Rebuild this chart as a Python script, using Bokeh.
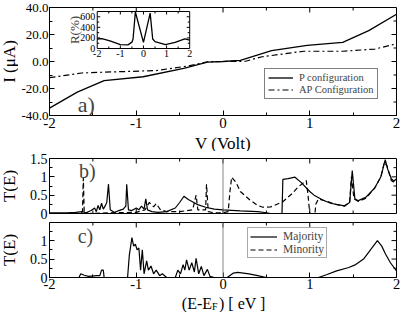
import math
from bokeh.plotting import figure
from bokeh.layouts import column, row
from bokeh.models import (Range1d, SingleIntervalTicker, Span, Label,
                          Legend, LegendItem, NumeralTickFormatter)
from bokeh.core.properties import value
from bokeh.embed import file_html
from bokeh.resources import INLINE

FONT = "Liberation Serif"

# ---------------- data ----------------
# panel a: I-V curves
v_p = [-2.0, -1.68, -1.37, -0.92, -0.44, -0.18, 0.0, 0.2, 0.56, 0.97, 1.38, 1.68, 2.0]
i_p = [-34.5, -22.7, -14.2, -11.3, -4.9, -0.5, 0.0, 0.8, 8.0, 12.0, 14.2, 22.9, 35.0]
v_ap = [-2.0, -1.63, -1.36, -0.77, -0.4, -0.18, 0.0, 0.26, 0.45, 0.93, 1.38, 1.75, 2.0]
i_ap = [-12.0, -8.5, -7.9, -6.7, -3.3, -0.2, 0.0, 0.2, 3.5, 7.6, 7.6, 9.2, 13.1]

# inset: magnetoresistance R(%) vs V
v_r = [-2.0, -1.8, -1.45, -1.0, -0.67, -0.5, -0.45, -0.35, 0.0, 0.29, 0.4, 0.5, 0.95, 1.37, 1.79, 2.0]
r_r = [180, 185, 143, 74, 69, 120, 180, 690, 115, 669, 180, 130, 74, 115, 183, 160]

# panel b: transmission, majority / minority
e_b_maj = [-2.0, -1.8, -1.7, -1.62, -1.58, -1.52, -1.48, -1.46, -1.44, -1.42, -1.40, -1.38,
           -1.36, -1.34, -1.32, -1.30, -1.25, -1.2, -1.15, -1.12, -1.11, -1.09, -1.05, -1.0,
           -0.97, -0.94, -0.91, -0.89, -0.87, -0.82, -0.75, -0.65, -0.55, -0.5, -0.45, -0.4,
           -0.3, -0.2, -0.1, 0.0, 0.2, 0.4, 0.5, 0.55, 0.68, 0.69, 0.75, 0.83, 0.9, 1.0, 1.05,
           1.15, 1.24, 1.32, 1.4, 1.46, 1.49, 1.52, 1.56, 1.65, 1.75, 1.82, 1.87, 1.9, 1.94,
           1.97, 2.0]
t_b_maj = [0.02, 0.02, 0.03, 0.05, 0.02, 0.08, 0.15, 0.05, 0.22, 0.1, 0.28, 0.12,
           0.2, 0.3, 0.8, 0.1, 0.03, 0.08, 0.12, 0.2, 0.8, 0.1, 0.08, 0.15,
           0.1, 0.2, 0.12, 0.4, 0.1, 0.05, 0.03, 0.05, 0.15, 0.3, 0.47, 0.38,
           0.25, 0.17, 0.12, 0.1, 0.07, 0.05, 0.02, 0.0, 0.0, 0.93, 0.95, 0.99, 0.85, 0.6, 0.5,
           0.37, 0.28, 0.24, 0.21, 0.3, 1.17, 0.4, 0.35, 0.45, 0.7, 1.0, 1.47, 1.2, 0.95,
           0.88, 0.95]
e_b_min = [-2.0, -1.65, -1.62, -1.61, -1.60, -1.55, -1.3, -1.0, -0.9, -0.85, -0.8, -0.77,
           -0.72, -0.65, -0.5, -0.35, -0.31, -0.29, -0.2, -0.19, -0.17, -0.1, 0.0, 0.06,
           0.08, 0.1, 0.15, 0.2, 0.31, 0.4, 0.46, 0.55, 0.69, 0.8, 0.86, 0.96, 0.98, 1.0,
           1.06, 1.07, 1.1, 1.2, 1.3, 1.4, 1.46, 1.48, 1.51, 1.56, 1.65, 1.75, 1.82, 1.86,
           1.89, 1.94, 1.97, 2.0]
t_b_min = [0.0, 0.0, 0.05, 0.97, 0.05, 0.0, 0.02, 0.03, 0.1, 0.3, 0.18, 0.27,
           0.1, 0.05, 0.05, 0.1, 0.5, 0.1, 0.1, 0.8, 0.05, 0.02, 0.02, 0.05,
           0.6, 0.99, 0.85, 0.6, 0.37, 0.22, 0.17, 0.18, 0.32, 0.55, 0.71, 0.9, 0.5, 0.0,
           0.0, 0.25, 0.4, 0.33, 0.25, 0.2, 0.3, 1.0, 0.4, 0.33, 0.42, 0.7, 1.0, 1.4,
           1.3, 0.9, 0.85, 0.9]

# panel c: transmission, majority / minority
e_c_maj = [-2.0, -1.66, -1.64, -1.6, -1.55, -1.45, -1.42, -1.40, -1.38, -1.37, -1.1, -1.08,
           -1.05, -1.03, -1.01, -0.99, -0.97, -0.95, -0.93, -0.91, -0.88, -0.86, -0.83, -0.8,
           -0.77, -0.73, -0.7, -0.65, -0.55, -0.52, -0.49, -0.46, -0.44, -0.42, -0.39, -0.36,
           -0.33, -0.31, -0.28, -0.25, -0.22, -0.18, -0.15, -0.1, 0.05, 0.12, 0.17, 0.3, 0.4,
           0.5, 1.1, 1.2, 1.31, 1.45, 1.53, 1.62, 1.7, 1.78, 1.83, 1.87, 1.93, 2.0]
t_c_maj = [0.0, 0.0, 0.1, 0.06, 0.03, 0.05, 0.05, 0.2, 0.2, 0.0, 0.0, 0.6,
           1.08, 0.85, 0.9, 0.75, 0.8, 0.2, 0.75, 0.1, 0.45, 0.2, 0.31, 0.1,
           0.2, 0.05, 0.1, 0.0, 0.0, 0.2, 0.1, 0.35, 0.2, 0.48, 0.2, 0.4,
           0.15, 0.52, 0.1, 0.3, 0.05, 0.22, 0.03, 0.0, 0.0, 0.12, 0.14, 0.1, 0.05,
           0.0, 0.0, 0.08, 0.18, 0.27, 0.35, 0.5, 0.75, 1.0, 0.85, 0.65, 0.4, 0.18]
e_c_min = [-2.0, 2.0]
t_c_min = [0.0, 0.0]

inset_x_labels = [-2, -1, 0, 1, 2]
inset_y_labels = [0, 200, 400, 600]

# ---------------- layout constants (pixels) ----------------
SW = 18                       # left strip for rotated axis titles
W = 401 - SW                  # width of the panel column
BL, BR = 29, 5
FL, FR = SW + BL, SW + W - BR  # frame left/right in page px: 47 .. 396
XPX = (FR - FL) / 4.0

H1, T1, F1 = 134, 7, 108      # panel a: height, top border, frame height
HV = 17                       # strip holding "V (Volt)"
H2, T2, F2 = 69, 7, 55        # panel b
H3, T3, F3 = 74, 2, 55        # panel c
HX = 312 - H1 - HV - H2 - H3  # strip holding the energy axis title

IN_L, IN_R, IN_T, IN_B = 95, 188, 11, 48   # inset box (page px)
R_MAX = 700


def base(height, top, frame_h, xr, yr):
    p = figure(width=W, height=height, x_range=xr, y_range=yr, output_backend="svg",
               toolbar_location=None, min_border_left=BL, min_border_right=BR,
               min_border_top=top, min_border_bottom=height - top - frame_h)
    p.xgrid.visible = False
    p.ygrid.visible = False
    p.outline_line_color = "black"
    p.outline_line_width = 1
    return p


def style_axis(ax, interval, nminor, size, fmt, standoff=2):
    ax.ticker = SingleIntervalTicker(interval=interval, num_minor_ticks=nminor)
    ax.formatter = NumeralTickFormatter(format=fmt)
    ax.axis_line_color = "black"
    ax.major_tick_in = 5
    ax.major_tick_out = 0
    ax.minor_tick_in = 3
    ax.minor_tick_out = 0
    ax.major_tick_line_color = "black"
    ax.minor_tick_line_color = "black"
    ax.major_label_text_font = FONT
    ax.major_label_text_font_size = size
    ax.major_label_text_color = "black"
    ax.major_label_standoff = standoff


def frame_ticks(p, x0, x1, xstep, y0, y1, ystep, ypx, sides):
    """inward tick marks on frame sides that carry no labels"""
    sx0, sy0, sx1, sy1 = [], [], [], []
    n = int(round((x1 - x0) / xstep))
    for k in range(1, n):
        x = x0 + k * xstep
        ln = (5 if k % 2 == 0 else 3) / ypx
        if "top" in sides:
            sx0.append(x); sy0.append(y1); sx1.append(x); sy1.append(y1 - ln)
        if "bottom" in sides:
            sx0.append(x); sy0.append(y0); sx1.append(x); sy1.append(y0 + ln)
    m = int(math.floor((y1 - y0) / ystep + 1e-9))
    for k in range(1, m + 1):
        y = y0 + k * ystep
        if y >= y1 - 1e-9:
            continue
        ln = (5 if k % 2 == 0 else 3) / XPX
        if "right" in sides:
            sx0.append(x1); sy0.append(y); sx1.append(x1 - ln); sy1.append(y)
    p.segment(x0=sx0, y0=sy0, x1=sx1, y1=sy1, line_color="black", line_width=1)


# ---------------- panel a ----------------
A_TOP, A_BOT = T1, T1 + F1
p1 = base(H1, T1, F1, Range1d(-2, 2), Range1d(-40, 40))
style_axis(p1.xaxis[0], 1, 2, "15px", "0")
style_axis(p1.yaxis[0], 20, 2, "13px", "0.0", standoff=1)
frame_ticks(p1, -2, 2, 0.5, -40, 40, 10, F1 / 80.0, ("top", "right"))

ixs = (IN_R - IN_L) / 4.0
iys = (IN_B - IN_T) / R_MAX
p1.extra_x_ranges = {"ix": Range1d(-2 - (IN_L - FL) / ixs, 2 + (FR - IN_R) / ixs)}
p1.extra_y_ranges = {"iy": Range1d(0 - (A_BOT - IN_B) / iys, R_MAX + (IN_T - A_TOP) / iys)}

rP = p1.line(v_p, i_p, line_color="black", line_width=1.3)
rAP = p1.line(v_ap, i_ap, line_color="black", line_width=1.2, line_dash="6 3 2 3")

p1.quad(left=-2, right=2, bottom=0, top=R_MAX, fill_color="white", line_color="black",
        line_width=1, x_range_name="ix", y_range_name="iy")
p1.line(v_r, r_r, line_color="black", line_width=1.3, x_range_name="ix", y_range_name="iy")

# inset tick marks
tx0, ty0, tx1, ty1 = [], [], [], []
for k in range(1, 8):
    x = -2 + 0.5 * k
    ln = (3 if k % 2 == 0 else 2) / iys
    tx0 += [x, x]; tx1 += [x, x]
    ty0 += [0, R_MAX]; ty1 += [ln, R_MAX - ln]
for k in range(1, 7):
    y = 100 * k
    ln = (3 if k % 2 == 0 else 2) / ixs
    tx0 += [-2, 2]; tx1 += [-2 + ln, 2 - ln]
    ty0 += [y, y]; ty1 += [y, y]
p1.segment(x0=tx0, y0=ty0, x1=tx1, y1=ty1, line_color="black", line_width=1,
           x_range_name="ix", y_range_name="iy")
p1.text(x=inset_x_labels, y=[0] * len(inset_x_labels), text=[str(v) for v in inset_x_labels],
        text_font=value(FONT), text_font_size=value("10px"), text_align="center",
        text_baseline="top", y_offset=1, x_range_name="ix", y_range_name="iy")
p1.text(x=[-2] * len(inset_y_labels), y=inset_y_labels, text=[str(v) for v in inset_y_labels],
        text_font=value(FONT), text_font_size=value("10px"), text_align="right",
        text_baseline="middle", x_offset=-2, x_range_name="ix", y_range_name="iy")
p1.add_layout(Label(x=-2, y=350, x_range_name="ix", y_range_name="iy", x_offset=-23,
                    text="R(%)", angle=math.pi / 2, text_font=FONT, text_font_size="13px",
                    text_align="center", text_baseline="middle"))
p1.add_layout(Label(x=-1.575, y=-31.8, text="a)", text_font=FONT, text_font_size="22px",
                    text_align="center", text_baseline="middle"))

legA = Legend(items=[LegendItem(label="P configuration", renderers=[rP]),
                     LegendItem(label="AP Configuration", renderers=[rAP])],
              location=(215, 16), label_text_font=FONT, label_text_font_size="10.5px",
              label_text_line_height=1.0,
              glyph_width=25, glyph_height=11, label_height=11, label_standoff=6,
              padding=3, spacing=1, margin=0, border_line_color="black",
              border_line_width=1, background_fill_alpha=1.0)
p1.add_layout(legA)

# ---------------- strip with "V (Volt)" ----------------
pv = figure(width=W, height=HV, x_range=p1.x_range, y_range=Range1d(0, 1),
            output_backend="svg", toolbar_location=None, x_axis_type=None, y_axis_type=None,
            min_border_left=BL, min_border_right=BR, min_border_top=0, min_border_bottom=0)
pv.outline_line_color = None
pv.grid.visible = False
pv.text(x=[0], y=[0.5], text=["V (Volt)"], text_font=value(FONT),
        text_font_size=value("17px"), text_align="center", text_baseline="middle")

# ---------------- panel b ----------------
p2 = base(H2, T2, F2, p1.x_range, Range1d(0, 1.5))
p2.xaxis.visible = False
style_axis(p2.yaxis[0], 0.5, 2, "14px", "0.[0]")
frame_ticks(p2, -2, 2, 0.5, 0, 1.5, 0.25, F2 / 1.5, ("top", "right", "bottom"))
p2.add_layout(Span(location=0, dimension="height", line_color="#888888", line_width=1))
p2.line(e_b_maj, t_b_maj, line_color="black", line_width=1.2)
p2.line(e_b_min, t_b_min, line_color="black", line_width=1.2, line_dash="5 3")
p2.add_layout(Label(x=-1.564, y=1.167, text="b)", text_font=FONT, text_font_size="20px",
                    text_align="center", text_baseline="middle"))

# ---------------- panel c ----------------
C_YMAX = 1.49
p3 = base(H3, T3, F3, p1.x_range, Range1d(0, C_YMAX))
style_axis(p3.xaxis[0], 1, 2, "14.5px", "0", standoff=1)
style_axis(p3.yaxis[0], 0.5, 2, "14px", "0.[0]")
frame_ticks(p3, -2, 2, 0.5, 0, C_YMAX, 0.25, F3 / C_YMAX, ("top", "right"))
p3.add_layout(Span(location=0, dimension="height", line_color="#888888", line_width=1))
rMaj = p3.line(e_c_maj, t_c_maj, line_color="black", line_width=1.2)
rMin = p3.line(e_c_min, t_c_min, line_color="black", line_width=1.2, line_dash="5 3")
p3.add_layout(Label(x=-1.586, y=1.13, text="c)", text_font=FONT, text_font_size="20px",
                    text_align="center", text_baseline="middle"))
legC = Legend(items=[LegendItem(label="Majority", renderers=[rMaj]),
                     LegendItem(label="Minority", renderers=[rMin])],
              location=(198, 19), label_text_font=FONT, label_text_font_size="11.5px",
              label_text_line_height=1.0,
              glyph_width=27, glyph_height=11, label_height=11, label_standoff=6,
              padding=2, spacing=1, margin=0, border_line_color="#555555",
              border_line_width=1, background_fill_alpha=1.0)
p3.add_layout(legC)

# ---------------- strip with the energy axis title ----------------
px = figure(width=W, height=HX, x_range=p1.x_range, y_range=Range1d(0, 1),
            output_backend="svg", toolbar_location=None, x_axis_type=None, y_axis_type=None,
            min_border_left=BL, min_border_right=BR, min_border_top=0, min_border_bottom=0)
px.outline_line_color = None
px.grid.visible = False
px.text(x=[0], y=[0.5], text=["(E-E"], text_font=value(FONT), text_font_size=value("16px"),
        text_align="right", text_baseline="middle", x_offset=-11)
px.text(x=[0], y=[0.5], text=["F"], text_font=value(FONT), text_font_size=value("10px"),
        text_align="left", text_baseline="middle", x_offset=-11, y_offset=3)
px.text(x=[0], y=[0.5], text=[") [ eV ]"], text_font=value(FONT), text_font_size=value("16px"),
        text_align="left", text_baseline="middle", x_offset=-4)

# ---------------- left strip with rotated axis titles ----------------
HT = H1 + HV + H2 + H3 + HX
ps = figure(width=SW, height=HT, x_range=Range1d(0, SW), y_range=Range1d(HT, 0),
            output_backend="svg", toolbar_location=None, x_axis_type=None, y_axis_type=None,
            min_border=0)
ps.outline_line_color = None
ps.grid.visible = False
ycent = [T1 + F1 / 2.0, H1 + HV + T2 + F2 / 2.0, H1 + HV + H2 + T3 + F3 / 2.0]
ps.text(x=[SW / 2.0] * 3, y=ycent, text=["I (μA)", "T(E)", "T(E)"], angle=math.pi / 2,
        text_font=value(FONT), text_font_size=value("17px"), text_align="center",
        text_baseline="middle")

layout = row(ps, column(p1, pv, p2, p3, px, spacing=0), spacing=0)
open("out.html", "w").write(file_html(layout, INLINE))
